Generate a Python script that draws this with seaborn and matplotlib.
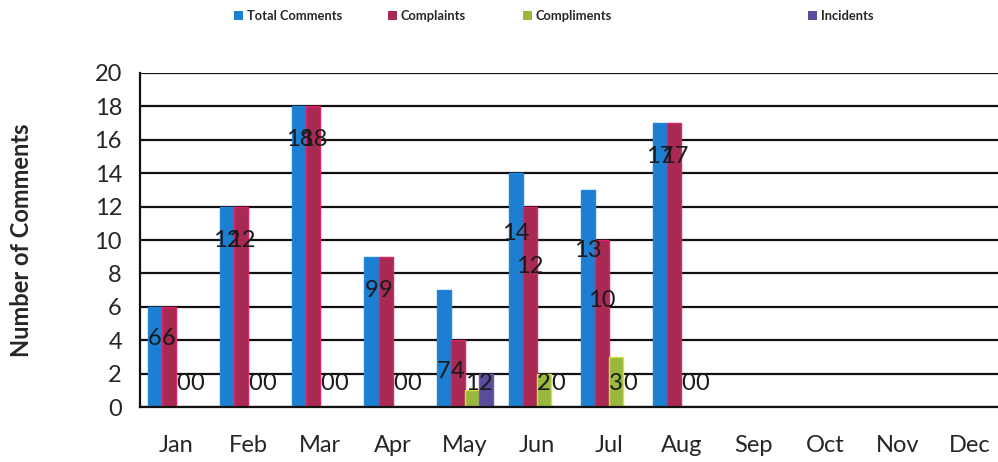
import matplotlib
matplotlib.use('Agg')
import matplotlib.pyplot as plt
import pandas as pd
import seaborn as sns

# Data
months = ['Jan', 'Feb', 'Mar', 'Apr', 'May', 'Jun', 'Jul', 'Aug', 'Sep', 'Oct', 'Nov', 'Dec']
total_comments = [6, 12, 18, 9, 7, 14, 13, 17, 0, 0, 0, 0]
complaints = [6, 12, 18, 9, 4, 12, 10, 17, 0, 0, 0, 0]
compliments = [0, 0, 0, 0, 1, 2, 3, 0, 0, 0, 0, 0]
incidents = [0, 0, 0, 0, 2, 0, 0, 0, 0, 0, 0, 0]
series = ['Total Comments', 'Complaints', 'Compliments', 'Incidents']

# where the value labels sit (they are not at the bar tops in the original)
label_y = {
    'Total Comments': [4.1, 10, 16, 7, 2.1, 10.4, 9.4, 15],
    'Complaints': [4.1, 10, 16, 7, 2.1, 8.4, 6.4, 15],
    'Compliments': [1.4] * 8,
    'Incidents': [1.4] * 8,
}

df = pd.DataFrame({'month': months,
                   'Total Comments': total_comments,
                   'Complaints': complaints,
                   'Compliments': compliments,
                   'Incidents': incidents})
df = df.melt(id_vars='month', var_name='series', value_name='count')

face = {'Total Comments': '#1c7fd2', 'Complaints': '#a82a52',
        'Compliments': '#98b840', 'Incidents': '#5a4b9c'}
edge = {'Total Comments': '#1f86e0', 'Complaints': '#e0206a',
        'Compliments': '#d8e040', 'Incidents': '#6a5ab0'}

sns.set_style('white')
plt.rcParams['font.family'] = ['Lato', 'DejaVu Sans']

fig = plt.figure(figsize=(9.98, 4.62), dpi=100)
ax = fig.add_axes([0.1403, 0.119, 0.8677, 0.723])

sns.barplot(data=df, x='month', y='count', hue='series', hue_order=series,
            order=months, palette=face, width=0.78, gap=0, linewidth=0,
            saturation=1, ax=ax)

for name, cont in zip(series, ax.containers):
    for i, bar in enumerate(cont):
        bar.set_edgecolor(edge[name])
        bar.set_linewidth(1.0 if bar.get_height() > 0 else 0)
        if i < len(label_y[name]):
            v = int(bar.get_height())
            ax.text(bar.get_x() + bar.get_width() / 2, label_y[name][i], str(v),
                    ha='center', va='center', fontsize=17, color='#1a1a1a', zorder=5)

handles, labels = ax.get_legend_handles_labels()
ax.get_legend().remove()
leg_x = [234, 388, 523, 808]
for h, lab, x in zip(handles, labels, leg_x):
    fig.legend([h], [lab], loc='center left', bbox_to_anchor=(x / 998, 1 - 16 / 462),
               frameon=False, borderpad=0, borderaxespad=0, handlelength=0.7,
               handleheight=0.7, handletextpad=0.3,
               prop={'size': 9.3, 'weight': 'bold'})

ax.set_xlim(-0.5, 11.5)
ax.set_ylim(0, 20)
ax.set_yticks(range(0, 21, 2))
ax.set_axisbelow(True)
ax.yaxis.grid(True, color='#111111', linewidth=1.6)
ax.xaxis.grid(False)

for s in ['top', 'right']:
    ax.spines[s].set_visible(False)
for s in ['left', 'bottom']:
    ax.spines[s].set_color('#111111')
    ax.spines[s].set_linewidth(1.6)

ax.set_xticks([i - 0.5 for i in range(13)], minor=True)
ax.tick_params(axis='x', which='major', length=0, pad=20, labelsize=17)
ax.tick_params(axis='x', which='minor', length=6, width=1.6, direction='out', color='#111111')
ax.tick_params(axis='y', length=10, width=1.4, direction='inout', pad=8,
               labelsize=17, color='#111111')

ax.set_xlabel('')
ax.set_ylabel('Number of Comments', fontsize=17, fontweight='bold', labelpad=44)

fig.savefig('out.png', dpi=100)
